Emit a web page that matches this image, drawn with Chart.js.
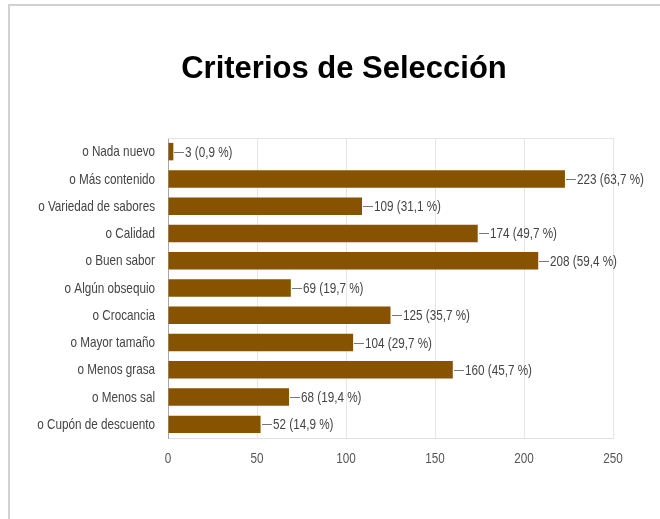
<!DOCTYPE html>
<html lang="es">
<head>
<meta charset="utf-8">
<title>Criterios de Selección</title>
<script src="https://cdn.jsdelivr.net/npm/chart.js@4"></script>
<style>
  html, body { margin: 0; padding: 0; background: #fff; }
  .frame {
    position: absolute; left: 8px; top: 4px; width: 700px; height: 600px;
    border-left: 2px solid #d2d2d2; border-top: 2px solid #d2d2d2;
  }
  .chart-box { position: absolute; left: 0; top: 0; width: 660px; height: 519px; }
</style>
</head>
<body>
<div class="frame"></div>
<div class="chart-box"><canvas id="criterios" width="660" height="519"></canvas></div>
<script>
const categories = [
  'o Nada nuevo', 'o Más contenido', 'o Variedad de sabores', 'o Calidad',
  'o Buen sabor', 'o Algún obsequio', 'o Crocancia', 'o Mayor tamaño',
  'o Menos grasa', 'o Menos sal', 'o Cupón de descuento'
];
const counts = [3, 223, 109, 174, 208, 69, 125, 104, 160, 68, 52];
const percents = ['0,9', '63,7', '31,1', '49,7', '59,4', '19,7', '35,7', '29,7', '45,7', '19,4', '14,9'];
const xTicks = [0, 50, 100, 150, 200, 250];

const labelFont = "15px 'Liberation Sans', Arial, sans-serif";
const squeeze = 0.78;   // condensed look for all small text
const barColor = '#875300';

// draws horizontally condensed text
function narrowText(ctx, text, x, y, align) {
  ctx.save();
  ctx.translate(x, y);
  ctx.scale(squeeze, 1);
  ctx.textAlign = align;
  ctx.fillText(text, 0, 0);
  ctx.restore();
}

// title drawn at a fixed spot above the plot
const titlePlugin = {
  id: 'chartTitle',
  afterDraw(chart) {
    const ctx = chart.ctx;
    ctx.save();
    ctx.font = "bold 31px 'Liberation Sans', Arial, sans-serif";
    ctx.fillStyle = '#000';
    ctx.textAlign = 'center';
    ctx.textBaseline = 'alphabetic';
    ctx.fillText('Criterios de Selección', 344, 78);
    ctx.restore();
  }
};

// axis labels in condensed text
const axisLabels = {
  id: 'axisLabels',
  afterDraw(chart) {
    const { ctx, scales } = chart;
    ctx.save();
    ctx.font = labelFont;
    ctx.textBaseline = 'middle';
    ctx.fillStyle = '#444';
    categories.forEach((c, i) => {
      narrowText(ctx, c, scales.y.left + scales.y.width - 13, scales.y.getPixelForTick(i) + 0.5, 'right');
    });
    ctx.fillStyle = '#555';
    xTicks.forEach(v => {
      narrowText(ctx, String(v), scales.x.getPixelForValue(v), scales.x.top + 21, 'center');
    });
    ctx.restore();
  }
};

// "—223 (63,7 %)" style labels at the end of each bar, plus the top frame line
const valueLabels = {
  id: 'valueLabels',
  beforeDatasetsDraw(chart) {
    const { ctx, chartArea } = chart;
    ctx.save();
    ctx.strokeStyle = '#e4e4e4';
    ctx.lineWidth = 1;
    ctx.beginPath();
    ctx.moveTo(chartArea.left, chartArea.top + 0.5);
    ctx.lineTo(chartArea.right, chartArea.top + 0.5);
    ctx.stroke();
    ctx.restore();
  },
  afterDatasetsDraw(chart) {
    const ctx = chart.ctx;
    const meta = chart.getDatasetMeta(0);
    ctx.save();
    ctx.font = labelFont;
    ctx.textBaseline = 'middle';
    meta.data.forEach((bar, i) => {
      const x = Math.round(bar.x);
      const y = Math.round(bar.y) + 0.5;
      ctx.strokeStyle = '#777';
      ctx.lineWidth = 1;
      ctx.beginPath();
      ctx.moveTo(x + 1, y);
      ctx.lineTo(x + 11, y);
      ctx.stroke();
      ctx.fillStyle = '#444';
      narrowText(ctx, counts[i] + ' (' + percents[i] + ' %)', x + 12, y, 'left');
    });
    ctx.restore();
  }
};

new Chart(document.getElementById('criterios'), {
  type: 'bar',
  data: {
    labels: categories,
    datasets: [{
      data: counts,
      backgroundColor: barColor,
      borderWidth: 0,
      categoryPercentage: 0.64,
      barPercentage: 1.0
    }]
  },
  options: {
    indexAxis: 'y',
    responsive: false,
    animation: false,
    layout: { padding: { top: 138, right: 47, left: 0, bottom: 0 } },
    plugins: {
      legend: { display: false },
      title: { display: false },
      tooltip: { enabled: false }
    },
    scales: {
      x: {
        min: xTicks[0],
        max: xTicks[xTicks.length - 1],
        afterBuildTicks(scale) {
          scale.ticks = xTicks.map(v => ({ value: v }));
        },
        afterFit(scale) { scale.height = 519 - 438; },
        grid: { color: '#e6e6e6', drawTicks: false },
        border: { color: '#e2e2e2' },
        ticks: { display: false }
      },
      y: {
        afterFit(scale) { scale.width = 168; },
        grid: { display: false },
        border: { color: '#a8a8a8' },
        ticks: { display: false }
      }
    }
  },
  plugins: [titlePlugin, axisLabels, valueLabels]
});
</script>
</body>
</html>
